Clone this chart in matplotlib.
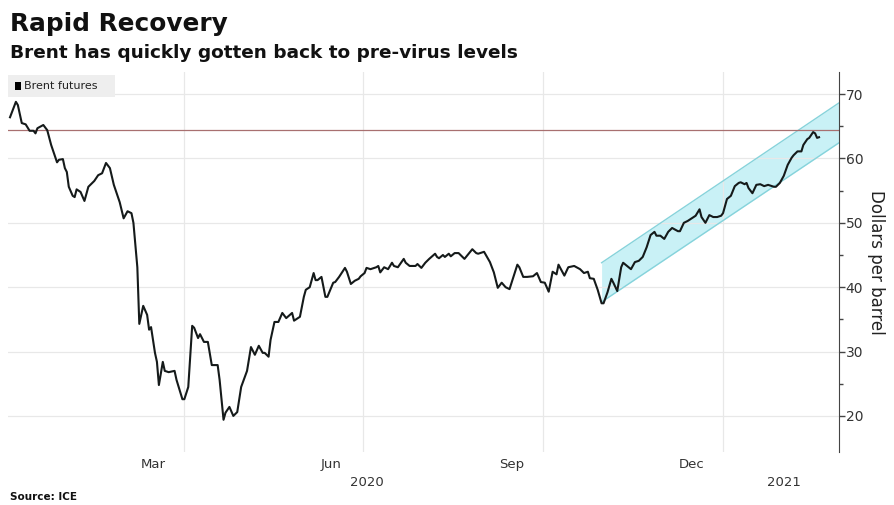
import matplotlib
matplotlib.use("Agg")
from matplotlib import pyplot as plt
import matplotlib.transforms as mtransforms
from matplotlib.patches import Rectangle
import pandas as pd

# Brent futures: days since 2020-01-01 and price ($/bbl)
base_date = "2020-01-01"
days = [2, 5, 6, 8, 10, 12, 14, 15, 16, 19, 21, 23, 26, 27, 29, 30, 31, 32, 34, 35,
        36, 38, 40, 42, 45, 47, 49, 51, 53, 55, 58, 60, 62, 64, 65, 67, 68, 70, 72, 73,
        74, 76, 77, 78, 80, 81, 83, 86, 87, 90, 91, 93, 95, 96, 98, 99, 101, 103, 105, 108,
        109, 111, 112, 114, 116, 118, 120, 123, 125, 127, 129, 131, 132, 134, 135, 137, 139, 141, 143, 146,
        147, 150, 152, 153, 155, 157, 158, 159, 161, 163, 164, 167, 168, 170, 173, 174, 176, 178, 180, 181,
        183, 184, 186, 189, 190, 191, 193, 195, 197, 198, 200, 203, 204, 206, 209, 210, 212, 214, 216, 219,
        220, 221, 223, 224, 226, 227, 229, 231, 234, 238, 240, 241, 244, 247, 249, 251, 253, 255, 257, 259,
        261, 262, 264, 266, 269, 271, 273, 275, 277, 279, 281, 282, 285, 287, 290, 293, 295, 297, 298, 300,
        302, 304, 305, 307, 309, 310, 312, 314, 315, 317, 319, 321, 323, 325, 327, 329, 331, 332, 334, 336,
        338, 340, 343, 344, 346, 348, 350, 352, 354, 355, 357, 359, 361, 363, 365, 366, 368, 370, 372, 374,
        375, 377, 378, 379, 381, 383, 385, 387, 389, 392, 393, 395, 397, 399, 401, 402, 404, 406, 407, 409,
        410, 412, 413, 414, 415]
prices = [66.4, 68.8, 68.3, 65.5, 65.3, 64.3, 64.3, 63.9, 64.7, 65.2, 64.4, 62.1, 59.4, 59.8, 59.9, 58.5, 57.9, 55.6, 54.2, 54.0,
          55.2, 54.8, 53.4, 55.6, 56.5, 57.4, 57.7, 59.3, 58.5, 55.9, 53.2, 50.7, 51.8, 51.5, 50.0, 43.1, 34.3, 37.1, 35.7, 33.4,
          33.8, 29.8, 28.4, 24.8, 28.4, 27.0, 26.8, 27.0, 25.6, 22.6, 22.6, 24.5, 34.0, 33.7, 32.1, 32.7, 31.5, 31.5, 27.9, 27.9,
          25.6, 19.4, 20.5, 21.4, 20.0, 20.6, 24.5, 27.0, 30.7, 29.5, 30.9, 29.8, 29.8, 29.2, 31.8, 34.6, 34.6, 36.0, 35.2, 36.0,
          34.8, 35.4, 38.5, 39.6, 40.0, 42.2, 41.1, 41.1, 41.6, 38.5, 38.5, 40.7, 40.8, 41.6, 43.0, 42.4, 40.5, 41.0, 41.3, 41.7,
          42.2, 43.0, 42.8, 43.1, 43.3, 42.3, 43.1, 42.8, 43.8, 43.3, 43.1, 44.4, 43.8, 43.3, 43.3, 43.6, 43.0, 43.8, 44.4, 45.2,
          44.7, 44.5, 45.0, 44.7, 45.2, 44.8, 45.3, 45.3, 44.4, 45.9, 45.3, 45.2, 45.5, 43.9, 42.3, 39.9, 40.7, 40.0, 39.7, 41.6,
          43.5, 43.1, 41.6, 41.6, 41.7, 42.2, 40.8, 40.7, 39.3, 42.4, 42.0, 43.5, 41.8, 43.1, 43.3, 42.8, 42.2, 42.4, 41.4, 41.3,
          39.6, 37.5, 37.5, 39.2, 41.3, 40.7, 39.4, 43.1, 43.8, 43.3, 42.8, 43.9, 44.1, 44.7, 46.2, 48.1, 48.6, 48.0, 48.0, 47.5,
          48.6, 49.2, 48.7, 48.7, 50.0, 50.3, 50.7, 51.1, 52.1, 50.9, 50.0, 51.2, 50.9, 50.9, 51.1, 51.5, 53.7, 54.2, 55.7, 56.2,
          56.3, 56.0, 56.2, 55.4, 54.6, 55.9, 56.0, 55.7, 55.9, 55.6, 55.6, 56.2, 57.3, 59.0, 60.1, 60.5, 61.1, 61.1, 62.1, 63.0,
          63.2, 64.1, 63.9, 63.2, 63.3]

pre_virus_level = 64.4

# rising channel drawn around the recovery
band_dates = ["2020-10-31", "2021-03-01"]
band_low = [37.7, 62.4]
band_high = [43.8, 68.6]

month_labels = ["Mar", "Jun", "Sep", "Dec"]
month_label_dates = ["2020-03-16", "2020-06-15", "2020-09-15", "2020-12-16"]
grid_dates = ["2020-04-01", "2020-07-01", "2020-10-01", "2021-01-01"]
year_labels = ["2020", "2021"]
year_label_dates = ["2020-07-03", "2021-02-01"]

dates = pd.Timestamp(base_date) + pd.to_timedelta(days, unit="D")

fig = plt.figure(figsize=(8.95, 5.05), dpi=100)
ax = fig.add_axes([0.009, 0.105, 0.928, 0.752])

ax.fill_between(pd.to_datetime(band_dates), band_low, band_high,
                color="#c9f1f6", zorder=1, linewidth=0)
ax.plot(pd.to_datetime(band_dates), band_low, color="#86d3db", lw=1, zorder=2)
ax.plot(pd.to_datetime(band_dates), band_high, color="#86d3db", lw=1, zorder=2)
ax.axhline(pre_virus_level, color="#a87070", lw=0.9, zorder=2)
ax.plot(dates, prices, color="#151a1a", lw=1.5, zorder=3)

ax.set_xlim(pd.Timestamp("2020-01-02"), pd.Timestamp("2021-03-01"))
ax.set_ylim(14.4, 73.4)

# y axis on the right
ax.yaxis.tick_right()
ax.yaxis.set_label_position("right")
ax.set_yticks([20, 30, 40, 50, 60, 70])
ax.set_yticks([25, 35, 45, 55, 65], minor=True)
ax.tick_params(axis="y", which="major", direction="out", length=4, width=1,
               color="#444444", labelsize=10, labelcolor="#333333", pad=1)
ax.tick_params(axis="y", which="minor", direction="out", length=3, width=1, color="#444444")
ax.set_ylabel("Dollars per barrel", rotation=270, labelpad=16, fontsize=12, color="#222222")
ax.grid(axis="y", which="major", color="#e8e8e8", lw=0.9, zorder=0)

# x axis: gridlines at quarter starts, labels centred in the months
ax.set_xticks(pd.to_datetime(grid_dates))
ax.set_xticklabels([])
ax.set_xticks(pd.to_datetime(month_label_dates), minor=True)
ax.set_xticklabels(month_labels, minor=True)
ax.tick_params(axis="x", which="both", length=0, labelsize=9.5, labelcolor="#333333", pad=4)
ax.grid(axis="x", which="major", color="#e8e8e8", lw=0.9, zorder=0)

trans = mtransforms.blended_transform_factory(ax.transData, ax.transAxes)
for lab, d in zip(year_labels, year_label_dates):
    ax.text(pd.Timestamp(d), -0.08, lab, transform=trans, ha="center", va="center",
            fontsize=9.5, color="#333333")

for side in ["top", "left", "bottom"]:
    ax.spines[side].set_visible(False)
ax.spines["right"].set_color("#444444")

# legend box
ax.add_patch(Rectangle((0, 0.935), 0.129, 0.058, transform=ax.transAxes,
                       facecolor="#eeeeee", edgecolor="none", zorder=4))
ax.add_patch(Rectangle((0.008, 0.953), 0.008, 0.022, transform=ax.transAxes,
                       facecolor="black", edgecolor="none", zorder=5))
ax.text(0.019, 0.964, "Brent futures", transform=ax.transAxes, fontsize=8,
        va="center", ha="left", color="#222222", zorder=5)

fig.text(0.011, 1 - 31 / 505, "Rapid Recovery", fontsize=17.8, fontweight="bold",
         va="baseline", ha="left", color="#111111")
fig.text(0.011, 1 - 58 / 505, "Brent has quickly gotten back to pre-virus levels",
         fontsize=13.3, fontweight="bold", va="baseline", ha="left", color="#111111")
fig.text(0.011, 1 - 497 / 505, "Source: ICE", fontsize=7.5, fontweight="bold",
         va="center", ha="left", color="#111111")

fig.savefig("out.png", dpi=100)
